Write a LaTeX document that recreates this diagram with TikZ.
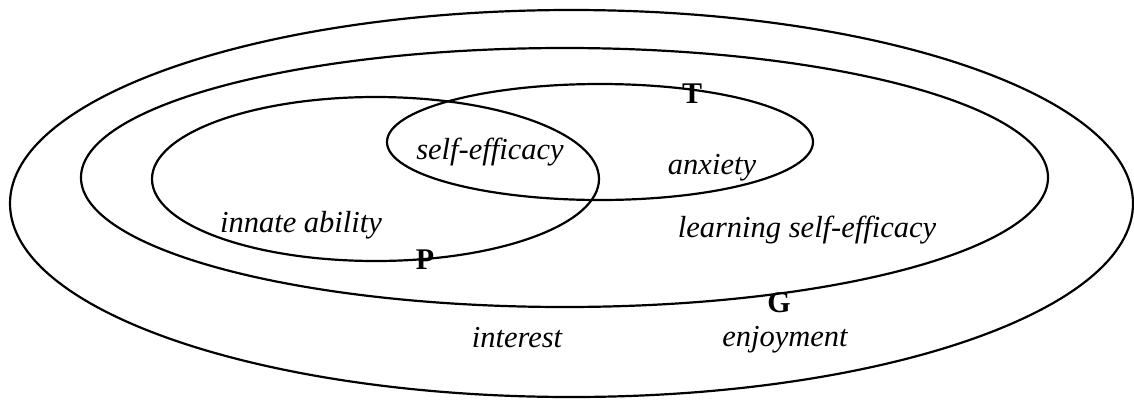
\documentclass[tikz,border=0pt]{standalone}
\usepackage{fontspec}
\setmainfont{Liberation Serif}
\begin{document}
\begin{tikzpicture}[x=1pt,y=-1pt,
  ring/.style={draw=black,line width=2.2pt},
  lbl/.style={anchor=base,inner sep=0pt,font=\fontsize{30.5}{36}\selectfont\itshape},
  tag/.style={anchor=base,inner sep=0pt,font=\fontsize{30}{36}\selectfont\bfseries}]
\useasboundingbox (0,0) rectangle (1134,399);
% ellipses
\draw[ring] (571.5,203.5) ellipse [x radius=561.5pt, y radius=193.5pt];
\draw[ring] (564.5,177.5) ellipse [x radius=483.5pt, y radius=129.5pt];
\draw[ring] (375.5,179) ellipse [x radius=223.5pt, y radius=82pt];
\draw[ring] (600,142) ellipse [x radius=213pt, y radius=58pt];
% labels
\node[lbl] (se) at (490,159) {self-efficacy};
\node[lbl] (anx) at (712,174) {anxiety};
\node[lbl] (ia) at (301,232) {innate ability};
\node[lbl] (lse) at (807,237) {learning self-efficacy};
\node[lbl] (int) at (517,347) {interest};
\node[lbl] (enj) at (785,346) {enjoyment};
\node[tag] (P) at (425,269) {P};
\node[tag] (T) at (692,103) {T};
\node[tag] (G) at (779,312) {G};
\end{tikzpicture}
\end{document}
